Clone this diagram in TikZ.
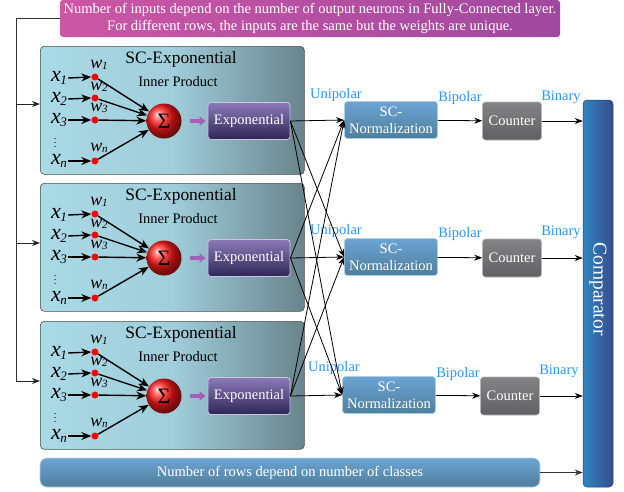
\documentclass[tikz,border=0pt]{standalone}
\usepackage{fontspec}
\setmainfont{Liberation Serif}
\usetikzlibrary{arrows.meta,calc}
\definecolor{lbl}{RGB}{40,150,250}
\definecolor{rowL}{RGB}{170,218,230}
\definecolor{rowM}{RGB}{160,206,218}
\definecolor{rowR}{RGB}{104,132,140}
\definecolor{expT}{RGB}{140,122,185}
\definecolor{expB}{RGB}{45,38,85}
\definecolor{normT}{RGB}{108,164,212}
\definecolor{normB}{RGB}{78,126,156}
\definecolor{cntT}{RGB}{132,132,134}
\definecolor{cntB}{RGB}{96,96,100}
\definecolor{cmpL}{RGB}{46,134,192}
\definecolor{cmpR}{RGB}{55,75,140}
\definecolor{banL}{RGB}{205,86,165}
\definecolor{banR}{RGB}{160,72,160}
\definecolor{arrP}{RGB}{165,95,180}
\newcommand\xsub[1]{\textit{x}\kern-0.5pt\raisebox{-2.5pt}{\fontsize{13}{13}\selectfont\textit{#1}}}
\newcommand\wsub[1]{\textit{w}\kern-0.5pt\raisebox{-1.5pt}{\fontsize{11}{11}\selectfont\textit{#1}}}
\begin{document}
\begin{tikzpicture}[x=1pt,y=-1pt,
  txt/.style={font=\fontsize{14.5}{17}\selectfont},
  conn/.style={-{Stealth[length=8pt,width=6pt]}, line width=0.8pt},
  rowbox/.style={draw=black!70, line width=0.6pt, rounded corners=4pt, left color=rowL, right color=rowR, middle color=rowM, minimum width=264pt, minimum height=128pt, inner sep=0pt, anchor=north west},
  expbox/.style={draw=expT!45!white, line width=0.8pt, rounded corners=3pt, top color=expT, bottom color=expB, minimum width=82pt, minimum height=37pt, inner sep=0pt, text=white, txt},
  normbox/.style={draw=normT!55!white, line width=0.8pt, rounded corners=3pt, top color=normT, bottom color=normB, minimum width=93pt, minimum height=37pt, inner sep=0pt, text=white, txt, align=center},
  cntbox/.style={draw=cntT!60!white, line width=0.6pt, rounded corners=3pt, top color=cntT, bottom color=cntB, minimum width=59pt, minimum height=38pt, inner sep=0pt, text=white, txt},
  dot/.style={circle, fill=red, minimum size=7pt, inner sep=0pt},
  xlab/.style={font=\fontsize{22}{22}\selectfont, inner sep=0pt},
  wlab/.style={font=\fontsize{18}{18}\selectfont, inner sep=0pt},
  sig/.style={circle, minimum size=35pt, inner sep=0pt, ball color=red!90!white, font=\fontsize{22}{22}\selectfont},
  parr/.style={-{Triangle[length=6pt,width=9pt]}, line width=3.5pt, arrP},
  plab/.style={txt, text=lbl, inner sep=0pt},
  thick conn/.style={-{Stealth[length=10pt,width=8pt]}, line width=1.4pt}
]
\useasboundingbox (0,0) rectangle (624,491);

% banner
\node[rounded corners=3pt, left color=banL, right color=banR, minimum width=500pt, minimum height=37pt, inner sep=0pt, text=white, align=center, font=\fontsize{14.5}{17}\selectfont] (ban) at (310,18.5)
  {Number of inputs depend on the number of output neurons in Fully-Connected layer.\\For different rows, the inputs are the same but the weights are unique.};

% comparator
\node[draw=cmpR!80!black, line width=0.5pt, rounded corners=4pt, left color=cmpL, right color=cmpR, minimum width=30pt, minimum height=387pt, inner sep=0pt] (cmp) at (598,293.5) {};
\node[rotate=-90, text=white, font=\fontsize{19.5}{20}\selectfont] (cmptxt) at (598,289) {Comparator};

\foreach \i/\dy/\nx in {1/0/391,2/137/391,3/275/389} {
  \node[rowbox] (box\i) at (40,46+\dy) {};
  \node[font=\fontsize{17.4}{20}\selectfont] (ttl\i) at (181,59+\dy) {SC-Exponential};
  \node[txt] (ip\i) at (178,82+\dy) {Inner Product};
  \node[xlab] (x-\i-1) at (59,78+\dy) {\xsub{1}};
  \node[xlab] (x-\i-2) at (59,99+\dy) {\xsub{2}};
  \node[xlab] (x-\i-3) at (59,120+\dy) {\xsub{3}};
  \node[font=\fontsize{10}{10}\selectfont, inner sep=0pt] (vd\i) at (55,140+\dy) {$\vdots$};
  \node[xlab] (x-\i-4) at (59,161+\dy) {\xsub{n}};
  \node[dot] (d-\i-1) at (95,77+\dy) {};
  \node[dot] (d-\i-2) at (95,98+\dy) {};
  \node[dot] (d-\i-3) at (95,120+\dy) {};
  \node[dot] (d-\i-4) at (95,161+\dy) {};
  \node[wlab] (w-\i-1) at (99,65+\dy) {\wsub{1}};
  \node[wlab] (w-\i-2) at (99,87+\dy) {\wsub{2}};
  \node[wlab] (w-\i-3) at (99,108+\dy) {\wsub{3}};
  \node[wlab] (w-\i-4) at (99,148+\dy) {\wsub{n}};
  \node[sig] (s\i) at (164,121+\dy) {Σ};
  \foreach \k in {1,2,3,4} {
    \draw[thick conn] ($(x-\i-\k.east)+(1,0)$) -- (d-\i-\k.west);
    \draw[thick conn] (d-\i-\k) -- (s\i);
  }
  \node[expbox] (e\i) at (249,121+\dy) {Exponential};
  \draw[parr] ($(s\i.east)+(8,0)$) -- ($(e\i.west)+(-2,0)$);
  \node[normbox] (n\i) at (\nx,120+\dy) {SC-\\Normalization};
  \node[cntbox] (c\i) at (\nx+121,121+\dy) {Counter};
  \draw[conn] (n\i) -- (c\i);
  \draw[conn] (c\i.east) -- (c\i.east -| cmp.west);
}
\node[plab] (u1) at (336,95) {Unipolar};
\node[plab] (u2) at (336,231) {Unipolar};
\node[plab] (u3) at (334,368) {Unipolar};
\node[plab] (b1) at (460,98) {Bipolar};
\node[plab] (b2) at (460,234) {Bipolar};
\node[plab] (b3) at (458,374) {Bipolar};
\node[plab] (y1) at (561,97) {Binary};
\node[plab] (y2) at (561,232) {Binary};
\node[plab] (y3) at (559,371) {Binary};

\foreach \i in {1,2,3} \foreach \j in {1,2,3}
  \draw[conn] (e\i.east) -- (n\j.west);

% left feed line
\coordinate (L1) at (16,104);
\coordinate (L2) at (16,243);
\coordinate (L3) at (16,381);
\draw[line width=0.9pt, black!80] (ban.west) -| (L3);
\foreach \i in {1,2,3} \draw[conn, black!85] (L\i) -- (L\i -| box\i.west);

% bottom bar
\node[rounded corners=7pt, top color=normT, bottom color=normB, draw=normT!50!white, line width=0.6pt, minimum width=500pt, minimum height=29pt, inner sep=0pt, text=white, txt] (bot) at (290,472.5) {Number of rows depend on number of classes};
\draw[conn, black!80] (bot.east) -- (bot.east -| cmp.west);
\end{tikzpicture}
\end{document}
